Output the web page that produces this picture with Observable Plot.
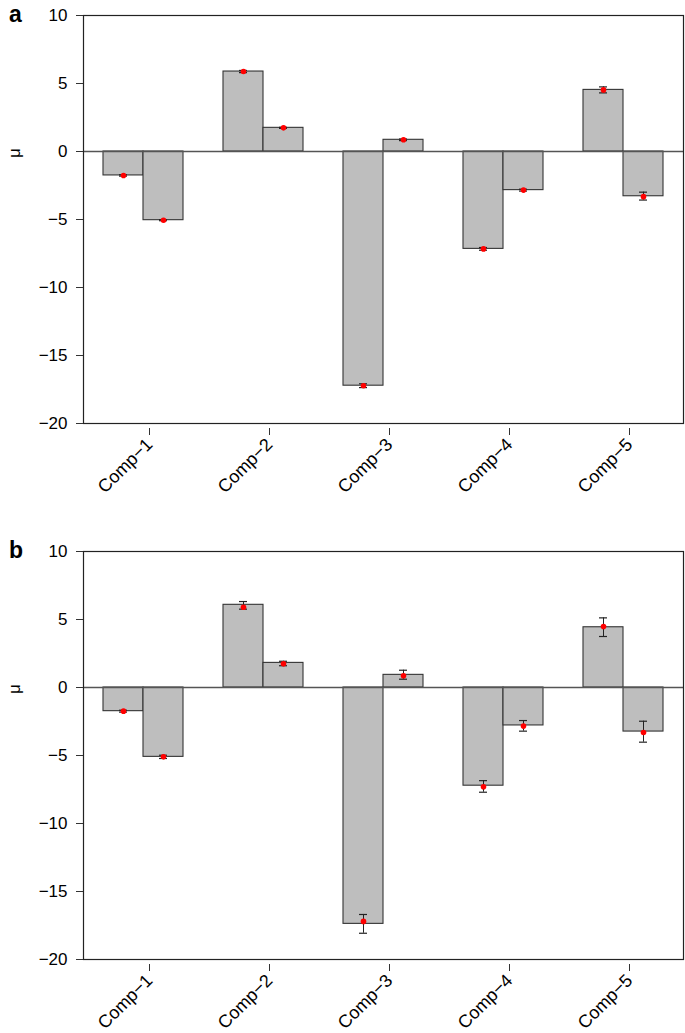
<!DOCTYPE html>
<html>
<head>
<meta charset="utf-8">
<script src="https://cdn.jsdelivr.net/npm/d3@7"></script>
<script src="https://cdn.jsdelivr.net/npm/@observablehq/plot@0.6"></script>
<style>
  html, body { margin: 0; padding: 0; background: #fff; }
  .panel { position: relative; width: 685px; }
  .letter { position: absolute; left: 9px; font: bold 23px "Liberation Sans", Arial, sans-serif; line-height: 23px; }
  .ylab { position: absolute; font: 17px "Liberation Sans", Arial, sans-serif; transform: translate(-50%, -50%) rotate(-90deg); }
</style>
</head>
<body>
<div id="pa" class="panel"><span class="letter" style="top:3px">a</span><span class="ylab" style="left:15px;top:153px">μ</span></div>
<div id="pb" class="panel"><span class="letter" style="top:3px">b</span><span class="ylab" style="left:15px;top:153px">μ</span></div>
<script>
// Categories
const comps = ["Comp\u22121", "Comp\u22122", "Comp\u22123", "Comp\u22124", "Comp\u22125"];
const series = ["first", "second"];
const yTicks = [-20, -15, -10, -5, 0, 5, 10];

// Panel a (pairs per component: first, second)
const aBar = [-1.76, -5.05, 5.88, 1.74, -17.22, 0.86, -7.16, -2.84, 4.53, -3.29];
const aDot = [-1.76, -5.05, 5.88, 1.74, -17.22, 0.86, -7.16, -2.84, 4.53, -3.32];
const aLo  = [-1.81, -5.09, 5.80, 1.70, -17.36, 0.80, -7.26, -2.91, 4.31, -3.57];
const aHi  = [-1.71, -5.01, 5.96, 1.78, -17.08, 0.92, -7.06, -2.77, 4.75, -2.99];

// Panel b
const bBar = [-1.74, -5.10, 6.08, 1.81, -17.38, 0.93, -7.22, -2.79, 4.43, -3.24];
const bDot = [-1.74, -5.10, 5.90, 1.74, -17.20, 0.86, -7.30, -2.84, 4.49, -3.31];
const bLo  = [-1.81, -5.22, 5.76, 1.60, -18.07, 0.61, -7.70, -3.21, 3.75, -4.02];
const bHi  = [-1.67, -4.98, 6.32, 1.93, -16.69, 1.27, -6.85, -2.43, 5.12, -2.48];

function rows(bar, dot, lo, hi) {
  return bar.map((v, i) => ({
    comp: comps[Math.floor(i / 2)],
    series: series[i % 2],
    bar: v, dot: dot[i], lo: lo[i], hi: hi[i]
  }));
}

function panel(data, height, marginBottom) {
  const ch = {fx: "comp", x: "series"};
  return Plot.plot({
    width: 685,
    height,
    marginTop: 15,
    marginLeft: 82,
    marginRight: 2,
    marginBottom,
    style: {fontFamily: "'Liberation Sans', Arial, sans-serif", fontSize: "16px", color: "#000", background: "#fff", overflow: "visible"},
    fx: {domain: comps, padding: 0, label: null},
    x: {domain: series, paddingInner: 0, paddingOuter: 0.5, axis: null},
    y: {domain: [-20, 10], label: null},
    marks: [
      Plot.barY(data, {...ch, y: "bar", fill: "#bebebe", stroke: "#333", strokeWidth: 1.1}),
      Plot.ruleY([0], {stroke: "#555", strokeWidth: 1.6}),
      Plot.ruleX(data, {...ch, y1: "lo", y2: "hi", stroke: "#222", strokeWidth: 1}),
      Plot.tickY(data, {...ch, y: "lo", insetLeft: 16, insetRight: 16, stroke: "#222", strokeWidth: 1.2}),
      Plot.tickY(data, {...ch, y: "hi", insetLeft: 16, insetRight: 16, stroke: "#222", strokeWidth: 1.2}),
      Plot.dot(data, {...ch, y: "dot", r: 2.8, fill: "red", stroke: null}),
      Plot.frame({facet: "super", stroke: "#222", strokeWidth: 1.2}),
      Plot.axisY({ticks: yTicks, tickSize: 7, tickPadding: 9, fontSize: 17, label: null, stroke: "#333"}),
      Plot.axisFx({anchor: "bottom", tickSize: 7, tickRotate: -45, tickPadding: 6, dx: 6, dy: 5, fontSize: 18, label: null, stroke: "#333"})
    ]
  });
}

document.getElementById("pa").prepend(panel(rows(aBar, aDot, aLo, aHi), 536, 113));
document.getElementById("pb").prepend(panel(rows(bBar, bDot, bLo, bHi), 497, 74));
</script>
</body>
</html>
